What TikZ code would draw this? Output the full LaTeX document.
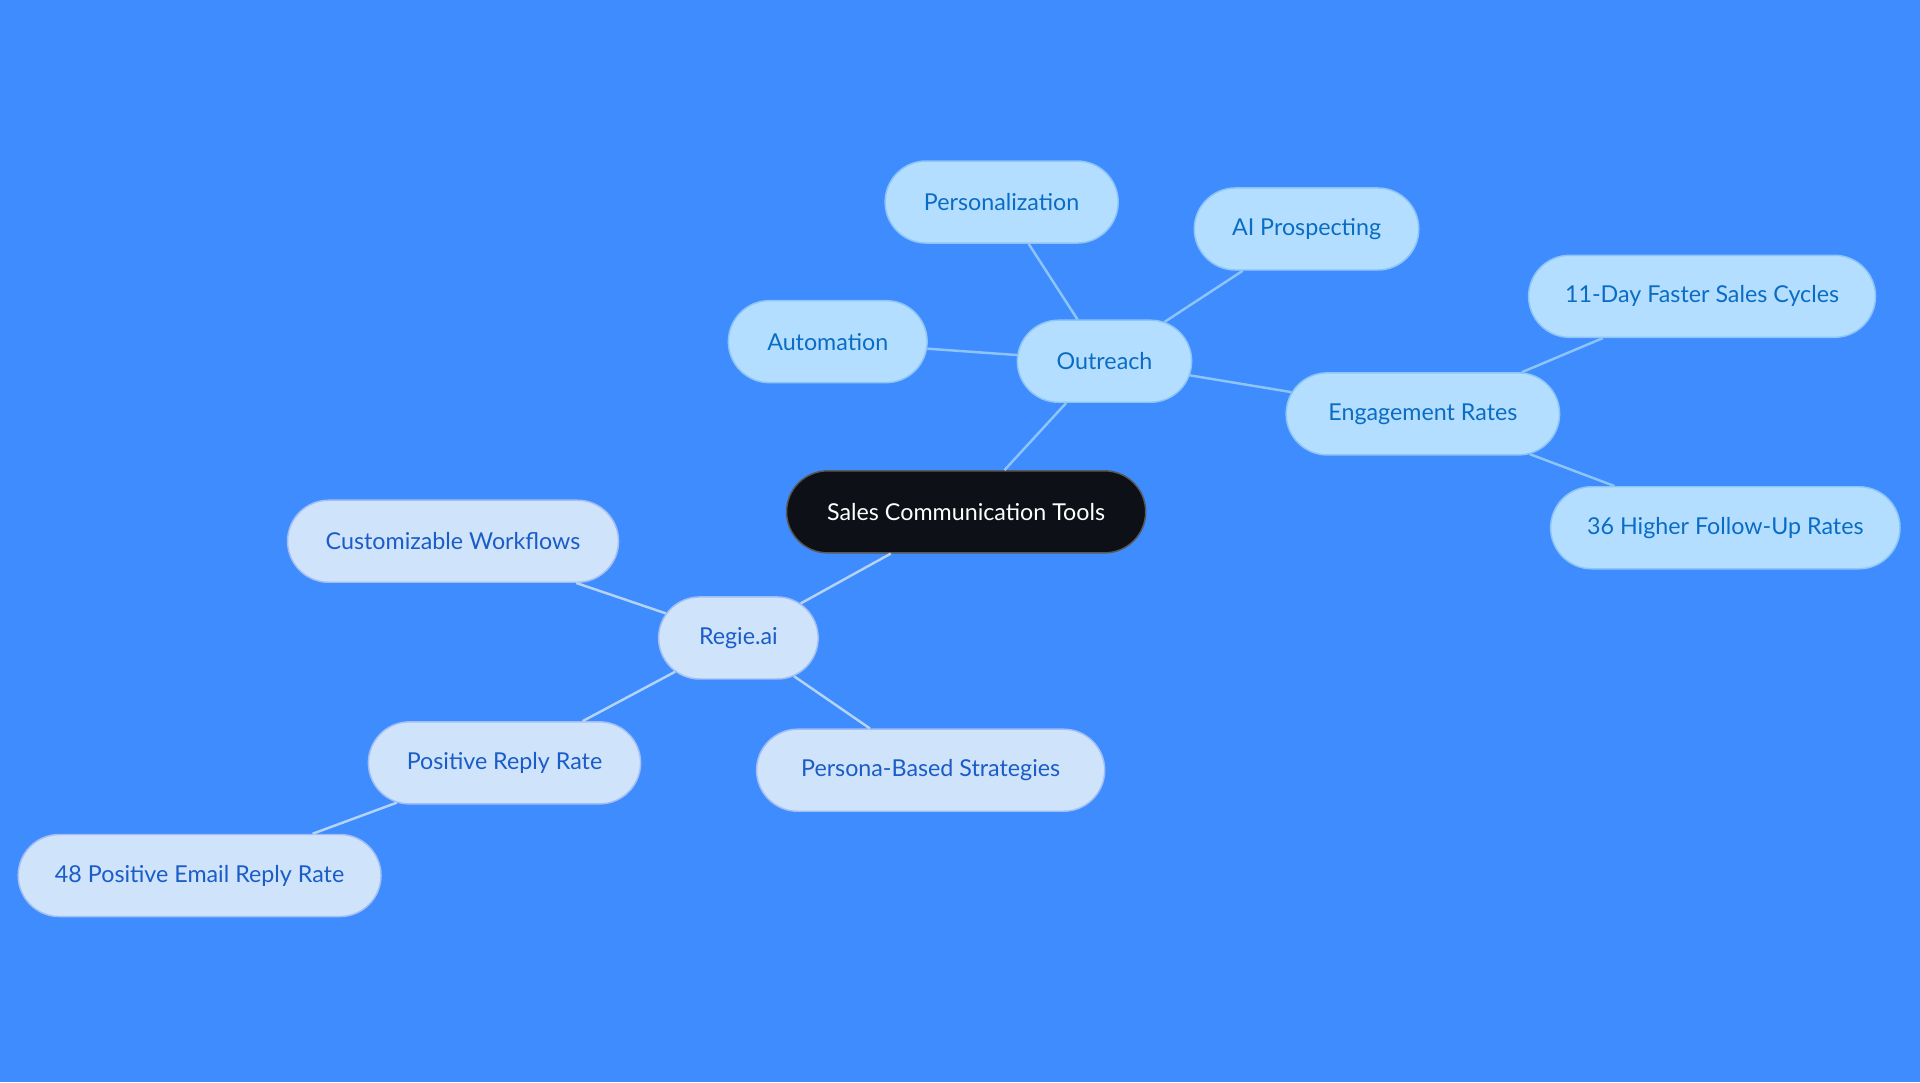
\documentclass[tikz,border=0pt]{standalone}
\usepackage{fontspec}
\setmainfont{Lato}
\usetikzlibrary{shapes.misc}
\definecolor{bgblue}{HTML}{3F8CFF}
\definecolor{rootfill}{HTML}{0D1117}
\definecolor{outfill}{HTML}{B3DEFF}
\definecolor{outtext}{HTML}{0B6CC4}
\definecolor{outline}{HTML}{8EC5F7}
\definecolor{regfill}{HTML}{CFE3FA}
\definecolor{regtext}{HTML}{1A5CC8}
\definecolor{regline}{HTML}{B5D3F3}
\begin{document}
\begin{tikzpicture}[x=1pt,y=-1pt,
    every node/.style={font=\fontsize{19}{22}\selectfont, minimum height=67pt,
      rounded rectangle, line width=1.2pt},
    root/.style={fill=rootfill, draw=gray!70!black, text=white},
    outbox/.style={fill=outfill, draw=outline, text=outtext},
    regbox/.style={fill=regfill, draw=regline!90!blue, text=regtext}]
      \fill[bgblue] (0,0) rectangle (1568,884);
      \useasboundingbox (0,0) rectangle (1568,884);
      \draw
        (789,418) node[root, minimum width=300pt] (tools){Sales Communication Tools}
        (902,295) node[outbox, minimum width=149pt] (outreach){Outreach}
        (818,165) node[outbox, minimum width=197pt] (person){Personalization}
        (1067,187) node[outbox, minimum width=190pt] (aiprosp){AI Prospecting}
        (676,279) node[outbox, minimum width=169pt] (auto){Automation}
        (1162,338) node[outbox, minimum width=230pt] (engage){Engagement Rates}
        (1390,242) node[outbox, minimum width=290pt] (cycles){11-Day Faster Sales Cycles}
        (1409,431) node[outbox, minimum width=292pt] (followup){36 Higher Follow-Up Rates}
        (603,521) node[regbox, minimum width=137pt] (regie){Regie.ai}
        (370,442) node[regbox, minimum width=277pt] (workflows){Customizable Workflows}
        (412,623) node[regbox, minimum width=229pt] (reply){Positive Reply Rate}
        (760,629) node[regbox, minimum width=291pt] (persona){Persona-Based Strategies}
        (163,715) node[regbox, minimum width=303pt] (email){48 Positive Email Reply Rate};
      \begin{scope}[-, line width=2pt, draw=outline]
        \draw (tools) to (outreach);
        \draw (outreach) to (person);
        \draw (outreach) to (aiprosp);
        \draw (outreach) to (auto);
        \draw (outreach) to (engage);
        \draw (engage) to (cycles);
        \draw (engage) to (followup);
      \end{scope}
      \begin{scope}[-, line width=2pt, draw=regline]
        \draw (tools) to (regie);
        \draw (regie) to (workflows);
        \draw (regie) to (reply);
        \draw (regie) to (persona);
        \draw (reply) to (email);
      \end{scope}
    \end{tikzpicture}
\end{document}
